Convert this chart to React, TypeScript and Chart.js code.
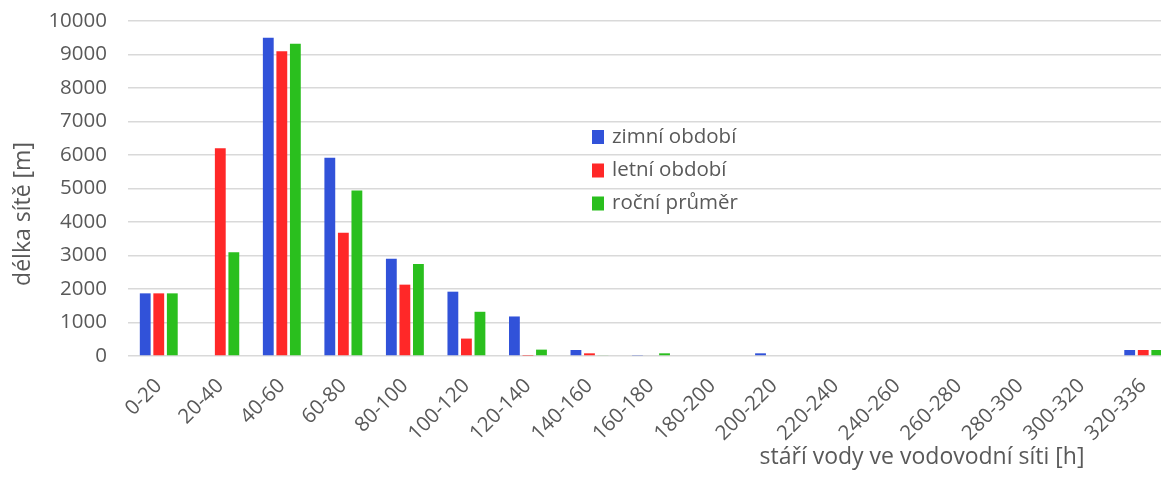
import React, { useEffect, useRef } from "react";
import { Chart, registerables } from "chart.js";

Chart.register(...registerables);

const categories = [
  "0-20", "20-40", "40-60", "60-80", "80-100", "100-120", "120-140", "140-160",
  "160-180", "180-200", "200-220", "220-240", "240-260", "260-280", "280-300",
  "300-320", "320-336",
];
const winter = [1870, 0, 9500, 5920, 2900, 1920, 1180, 180, 15, 0, 80, 0, 0, 0, 0, 0, 180];
const summer = [1870, 6200, 9100, 3680, 2130, 520, 10, 80, 0, 0, 0, 0, 0, 0, 0, 0, 180];
const yearly = [1870, 3100, 9320, 4940, 2750, 1320, 190, 20, 80, 0, 0, 0, 0, 0, 0, 0, 180];
const seriesNames = ["zimní období", "letní období", "roční průměr"];
const seriesColors = ["#3152D9", "#FF2828", "#2ABF1E"];
const yTicks = [0, 1000, 2000, 3000, 4000, 5000, 6000, 7000, 8000, 9000, 10000];
const yTitle = "délka sítě [m]";
const xTitle = "stáří vody ve vodovodní síti [h]";

const FONT = "'Open Sans', sans-serif";
const TEXT = "#595959";

const overlayPlugin = {
  id: "overlay",
  afterDraw(chart: any) {
    const ctx = chart.ctx;
    ctx.save();
    ctx.font = `20.5px ${FONT}`;
    // legend inside plot
    const lx = 592;
    const rows = [137, 170.5, 203.5];
    chart.data.datasets.forEach((ds: any, i: number) => {
      ctx.fillStyle = ds.backgroundColor;
      ctx.fillRect(lx, rows[i] - 7, 12, 14);
      ctx.fillStyle = TEXT;
      ctx.textAlign = "left";
      ctx.textBaseline = "middle";
      ctx.fillText(ds.label, lx + 20, rows[i]);
    });
    // axis titles
    ctx.font = `23px ${FONT}`;
    ctx.fillStyle = TEXT;
    ctx.textAlign = "center";
    ctx.textBaseline = "middle";
    ctx.fillText(xTitle, 922, 457);
    ctx.translate(23, 214);
    ctx.rotate(-Math.PI / 2);
    ctx.fillText(yTitle, 0, 0);
    ctx.restore();
  },
};

export default function App() {
  const ref = useRef<HTMLCanvasElement>(null);
  useEffect(() => {
    if (!ref.current) return;
    const chart = new Chart(ref.current, {
      type: "bar",
      data: {
        labels: categories,
        datasets: [winter, summer, yearly].map((d, i) => ({
          label: seriesNames[i],
          data: d,
          backgroundColor: seriesColors[i],
          categoryPercentage: 0.66,
          barPercentage: 0.8,
        })),
      },
      options: {
        responsive: false,
        animation: false,
        layout: { padding: { top: 21, right: 6, bottom: 0, left: 0 } },
        plugins: { legend: { display: false }, tooltip: { enabled: false } },
        scales: {
          x: {
            grid: { display: false, drawTicks: false },
            border: { display: false },
            ticks: {
              minRotation: 45,
              maxRotation: 45,
              autoSkip: false,
              padding: 18,
              color: TEXT,
              font: { family: FONT, size: 20.5 },
            },
            afterFit: (s: any) => { s.height = 121; },
          },
          y: {
            min: 0,
            max: 10000,
            afterBuildTicks: (s: any) => { s.ticks = yTicks.map((v) => ({ value: v })); },
            grid: { color: "#d9d9d9", lineWidth: 1.5, drawTicks: true, tickLength: 21, tickColor: "rgba(0,0,0,0)" },
            border: { display: false },
            ticks: {
              padding: 0,
              color: TEXT,
              font: { family: FONT, size: 20.5 },
              callback: (v: any) => String(v),
            },
            afterFit: (s: any) => { s.width = 128; },
          },
        },
      },
      plugins: [overlayPlugin],
    });
    return () => chart.destroy();
  }, []);
  return (
    <div style={{ position: "fixed", left: 0, top: 0, width: "100vw", height: "100vh", overflow: "hidden", background: "#fff" }}>
      <canvas ref={ref} width={1180} height={477} style={{ display: "block" }} />
    </div>
  );
}
